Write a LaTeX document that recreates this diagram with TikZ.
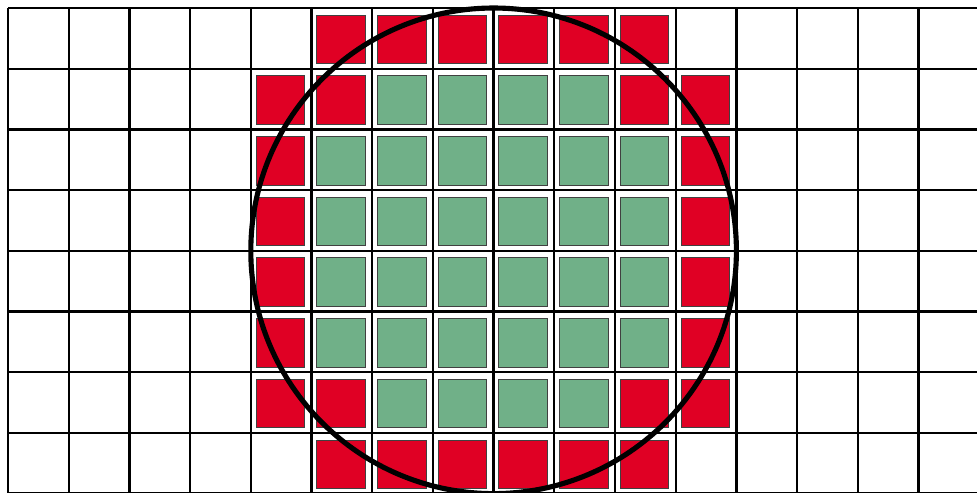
\documentclass[tikz,border=0pt]{standalone}
\usepackage{tikz}
\usetikzlibrary{positioning}
\definecolor{hitred}{RGB}{224,0,36}
\definecolor{insgreen}{RGB}{112,176,136}

\begin{document}
\begin{tikzpicture}[
                grd/.style  ={line width=1.1pt, draw=black},
                sq/.style   ={draw=black!75, line width=0.4pt, minimum size=0.8cm,
                        inner sep=0pt, anchor=north west},
                edg/.style  ={sq, fill=hitred},
                inr/.style  ={sq, fill=insgreen},
                ring/.style ={circle, draw=black, line width=2.4pt, minimum size=8cm,
                        inner sep=0pt}
            ]
            \useasboundingbox (-0.132,0.132) rectangle (15.964,-7.974);
            \clip (-0.132,0.132) rectangle (15.964,-7.974);

            %% ---- grid ---------------------------------------------------------
            \foreach \i in {0,...,16}
                \draw[grd] (\i,0) -- (\i,-8.2);
            \foreach \j in {0,...,8}
                \draw[grd] (0,-\j) -- (16.2,-\j);

            %% ---- cells cut by the circle (red) ---------------------------------
            \foreach \r/\c in {0/5,0/6,0/7,0/8,0/9,0/10,
                               1/4,1/5,1/10,1/11,
                               2/4,2/11,3/4,3/11,4/4,4/11,5/4,5/11,
                               6/4,6/5,6/10,6/11,
                               7/5,7/6,7/7,7/8,7/9,7/10}
                \node[edg] (e-\r-\c) at (\c+0.08,-\r-0.11) {};

            %% ---- cells inside the circle (green) -------------------------------
            \foreach \r/\a/\b in {1/6/9, 2/5/10, 3/5/10, 4/5/10, 5/5/10, 6/6/9}
                \foreach \c in {\a,...,\b}
                    \node[inr] (g-\r-\c) at (\c+0.08,-\r-0.11) {};

            %% ---- circle ---------------------------------------------------------
            \node[ring] (disk) at (8,-4) {};

        \end{tikzpicture}
\end{document}
